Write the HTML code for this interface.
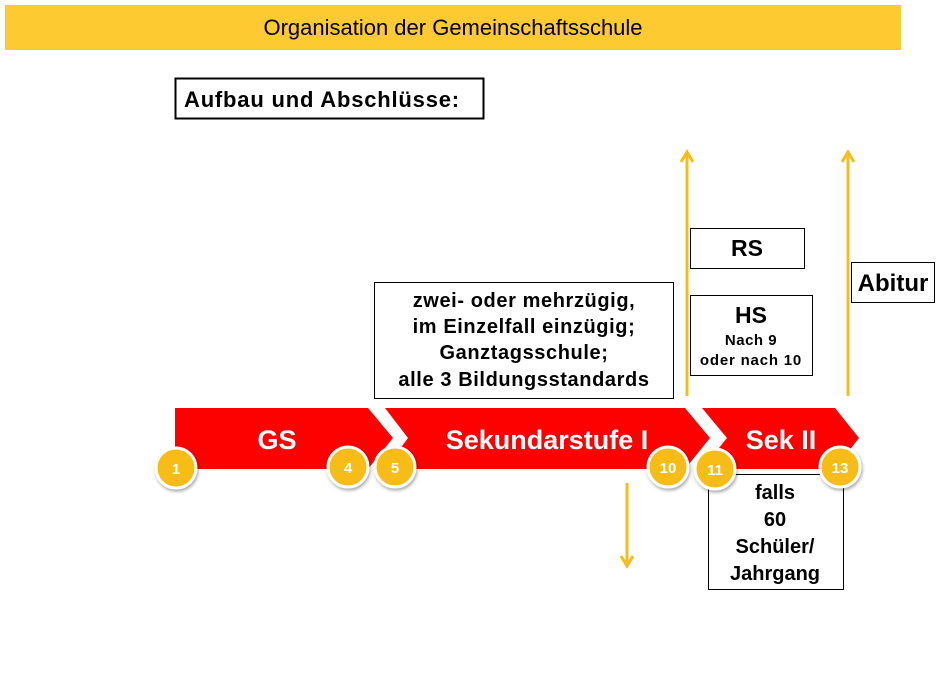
<!DOCTYPE html>
<html><head><meta charset="utf-8"><style>
body{margin:0;background:#fff;width:942px;height:689px;overflow:hidden}
svg{display:block}
.b{font-family:"Liberation Sans",sans-serif;font-weight:bold;fill:#000}
</style></head><body>
<svg width="942" height="689" viewBox="0 0 942 689">
<defs><filter id="sh" x="-50%" y="-50%" width="200%" height="200%"><feDropShadow dx="1" dy="2" stdDeviation="1.5" flood-opacity="0.35"/></filter></defs>
<rect x="5" y="5" width="896" height="45" fill="#fdca32"/>
<text x="453" y="35" text-anchor="middle" font-family="'Liberation Sans',sans-serif" font-size="22" fill="#000">Organisation der Gemeinschaftsschule</text>
<rect x="175.5" y="78.5" width="308" height="40" fill="#fff" stroke="#000" stroke-width="2"/>
<text x="184" y="107" class="b" font-size="22" letter-spacing="0.8">Aufbau und Abschlüsse:</text>
<polygon points="175,408 368,408 393,438 368,469 175,469" fill="#fd0000"/>
<polygon points="385,408 685,408 710,438 685,469 385,469 408,438" fill="#fd0000"/>
<polygon points="702,408 835,408 859,438 835,469 702,469 727,438" fill="#fd0000"/>
<text x="277" y="449" text-anchor="middle" font-family="'Liberation Sans',sans-serif" font-weight="bold" font-size="27" fill="#fff">GS</text>
<text x="547" y="449" text-anchor="middle" font-family="'Liberation Sans',sans-serif" font-weight="bold" font-size="27" fill="#fff">Sekundarstufe I</text>
<text x="781" y="449" text-anchor="middle" font-family="'Liberation Sans',sans-serif" font-weight="bold" font-size="27" fill="#fff">Sek II</text>
<g stroke="#f7bc1c" stroke-width="3" fill="none">
<line x1="687" y1="396" x2="687" y2="153"/><polyline points="681,162 687,152 693,162"/>
<line x1="848" y1="396" x2="848" y2="153"/><polyline points="842,162 848,152 854,162"/>
<line x1="627" y1="483" x2="627" y2="565"/><polyline points="621,556 627,566 633,556"/>
</g>
<rect x="690.5" y="228.5" width="114" height="40" fill="#fff" stroke="#000"/>
<text x="747" y="256" text-anchor="middle" class="b" font-size="23">RS</text>
<rect x="690.5" y="295.5" width="122" height="80" fill="#fff" stroke="#000"/>
<text x="751" y="323" text-anchor="middle" class="b" font-size="23">HS</text>
<text x="751" y="345" text-anchor="middle" class="b" font-size="15" letter-spacing="0.5">Nach 9</text>
<text x="751" y="365" text-anchor="middle" class="b" font-size="15" letter-spacing="0.8">oder nach 10</text>
<rect x="851.5" y="262.5" width="83" height="40" fill="#fff" stroke="#000"/>
<text x="893" y="291" text-anchor="middle" class="b" font-size="24">Abitur</text>
<rect x="374.5" y="282.5" width="299" height="116" fill="#fff" stroke="#000"/>
<g class="b" font-size="20" text-anchor="middle" letter-spacing="0.6">
<text x="524" y="307">zwei- oder mehrzügig,</text>
<text x="524" y="333">im Einzelfall einzügig;</text>
<text x="524" y="359">Ganztagsschule;</text>
<text x="524" y="386">alle 3 Bildungsstandards</text>
</g>
<rect x="708.5" y="474.5" width="135" height="115" fill="#fff" stroke="#000"/>
<g class="b" font-size="20" text-anchor="middle">
<text x="775" y="499">falls</text>
<text x="775" y="526">60</text>
<text x="775" y="553">Schüler/</text>
<text x="775" y="580">Jahrgang</text>
</g>
<g filter="url(#sh)" stroke="#fff" stroke-width="3" fill="#f8bc14">
<circle cx="176" cy="468" r="20"/><circle cx="348" cy="467" r="20"/><circle cx="395" cy="467" r="20"/>
<circle cx="668" cy="467" r="20"/><circle cx="715" cy="469" r="20"/><circle cx="840" cy="467" r="20"/>
</g>
<g font-family="'Liberation Sans',sans-serif" font-weight="bold" font-size="15" fill="#fff" text-anchor="middle">
<text x="176" y="474">1</text><text x="348" y="473">4</text><text x="395" y="473">5</text>
<text x="668" y="473">10</text><text x="715" y="475">11</text><text x="840" y="473">13</text>
</g>
</svg>
</body></html>
